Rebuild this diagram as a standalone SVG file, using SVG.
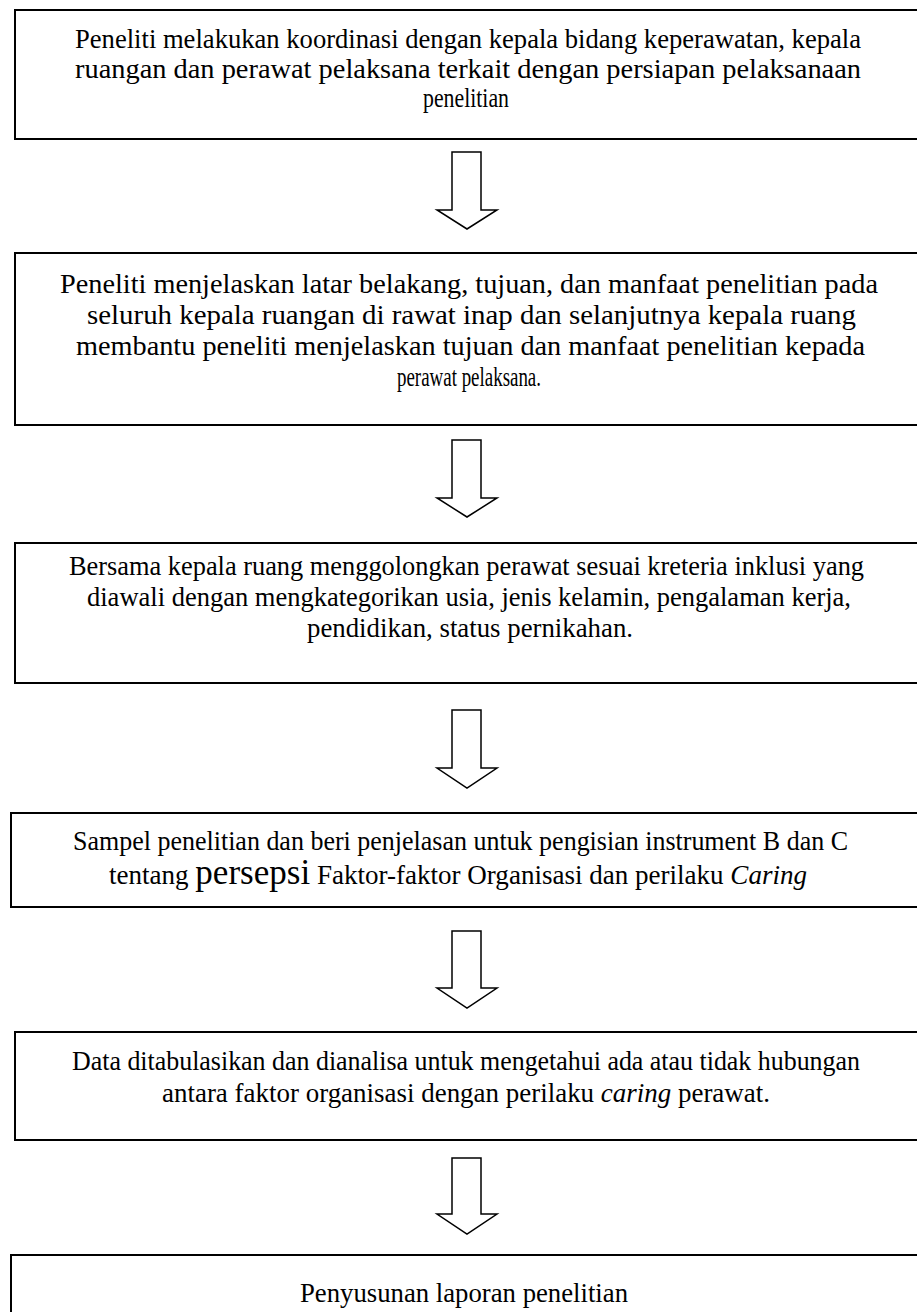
<svg xmlns="http://www.w3.org/2000/svg" width="917" height="1312" viewBox="0 0 917 1312">
<style>
.box{fill:#fff;stroke:#000;stroke-width:2}
.arr{fill:#fff;stroke:#000;stroke-width:1.5;stroke-linejoin:miter}
text{font-family:"Liberation Serif","Times New Roman",serif;font-size:27px;fill:#000}
.c{text-anchor:middle}
.it{font-style:italic}
</style>
<rect width="917" height="1312" fill="#fff"/>
<g id="connectors">
<polygon class="arr" points="452,152 481,152 481,210 497,210 467,229 437,210 452,210"/>
<polygon class="arr" points="452,440 481,440 481,498 497,498 467,517 437,498 452,498"/>
<polygon class="arr" points="452,710 481,710 481,768 497,768 467,788 437,768 452,768"/>
<polygon class="arr" points="452,931 481,931 481,988 497,988 467,1008 437,988 452,988"/>
<polygon class="arr" points="452,1158 481,1158 481,1214 497,1214 467,1234 437,1214 452,1214"/>
</g>
<g id="n1">
<rect class="box" x="15" y="10" width="920" height="129"/>
<text x="75" y="48" textLength="786" lengthAdjust="spacingAndGlyphs">Peneliti melakukan koordinasi dengan kepala bidang keperawatan, kepala</text>
<text x="75" y="78" textLength="786" lengthAdjust="spacingAndGlyphs">ruangan  dan  perawat  pelaksana  terkait  dengan  persiapan  pelaksanaan</text>
<text x="466" y="107" class="c" textLength="86" lengthAdjust="spacingAndGlyphs">penelitian</text>
</g>
<g id="n2">
<rect class="box" x="15" y="253" width="920" height="172"/>
<text x="60" y="293" textLength="818" lengthAdjust="spacingAndGlyphs">Peneliti  menjelaskan  latar  belakang,  tujuan,  dan  manfaat  penelitian pada</text>
<text x="87" y="324" textLength="769" lengthAdjust="spacingAndGlyphs">seluruh kepala ruangan di rawat inap dan selanjutnya kepala ruang</text>
<text x="76" y="355" textLength="789" lengthAdjust="spacingAndGlyphs">membantu peneliti menjelaskan tujuan dan manfaat penelitian kepada</text>
<text x="397" y="386" textLength="144" lengthAdjust="spacingAndGlyphs">perawat pelaksana.</text>
</g>
<g id="n3">
<rect class="box" x="15" y="543" width="920" height="140"/>
<text x="69" y="575" textLength="795" lengthAdjust="spacingAndGlyphs">Bersama kepala ruang menggolongkan perawat sesuai kreteria inklusi yang</text>
<text x="87" y="606" textLength="764" lengthAdjust="spacingAndGlyphs">diawali dengan mengkategorikan usia, jenis kelamin, pengalaman kerja,</text>
<text x="307" y="637" textLength="326" lengthAdjust="spacingAndGlyphs">pendidikan, status pernikahan.</text>
</g>
<g id="n4">
<rect class="box" x="11" y="813" width="924" height="94"/>
<text x="73" y="850" textLength="775" lengthAdjust="spacingAndGlyphs">Sampel penelitian dan beri penjelasan untuk pengisian instrument B dan C</text>
<text x="109" y="884" textLength="698" lengthAdjust="spacingAndGlyphs">tentang <tspan font-size="35">persepsi</tspan> Faktor-faktor  Organisasi dan perilaku <tspan class="it">Caring</tspan></text>
</g>
<g id="n5">
<rect class="box" x="15" y="1032" width="920" height="108"/>
<text x="72" y="1070" textLength="788" lengthAdjust="spacingAndGlyphs">Data ditabulasikan dan dianalisa untuk mengetahui ada atau tidak hubungan</text>
<text x="162" y="1102" textLength="608" lengthAdjust="spacingAndGlyphs">antara faktor organisasi dengan perilaku <tspan class="it">caring</tspan>  perawat.</text>
</g>
<g id="n6">
<rect class="box" x="11" y="1255" width="924" height="80"/>
<text x="464" y="1302" class="c" textLength="328" lengthAdjust="spacingAndGlyphs">Penyusunan laporan penelitian</text>
</g>
</svg>
